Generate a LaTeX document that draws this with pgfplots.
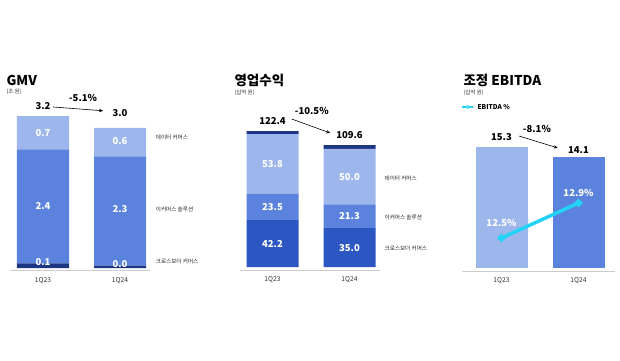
\documentclass[border=0pt]{standalone}
\usepackage{fontspec}
\setmainfont{Noto Sans CJK KR}
\usepackage{pgfplots}
\pgfplotsset{compat=1.18}
\usetikzlibrary{arrows.meta}
\definecolor{cLight}{HTML}{9DB6EB}
\definecolor{cMid}{HTML}{5B83DD}
\definecolor{cDark}{HTML}{2C57C2}
\definecolor{cNavy}{HTML}{1C3682}
\definecolor{cCyan}{HTML}{22D3F6}
\definecolor{cGrid}{HTML}{CCCCCC}
\newcommand{\fs}[1]{\fontsize{#1}{#1}\selectfont}
\pgfplotsset{
  panel/.style={
    ybar stacked, bar width=52pt, x=77pt,
    axis x line=bottom, hide y axis,
    axis line style={cGrid, line width=0.8pt, -},
    xtick={0,1}, xticklabels={1Q23,1Q24},
    tick style={draw=none},
    xticklabel style={font=\fs{6.7}, text=black!80, yshift=-1pt},
    clip=false, anchor=origin,
  },
}
\tikzset{
  seg/.style={font=\bfseries\fs{9.5}, text=white},
  tot/.style={font=\bfseries\fs{9.5}, text=black},
  side/.style={font=\fs{5.6}, text=black!85, anchor=west},
}
\begin{document}
\begin{tikzpicture}
\useasboundingbox[fill=white] (0pt,0pt) rectangle (620pt,360pt);

% ---------- GMV ----------
\begin{axis}[panel, at={(43pt,92pt)}, y=47.5pt, xmin=-0.43, xmax=1.39, ymin=-0.06, ymax=3.6]
\addplot[fill=cNavy, draw=none] coordinates {(0,0.1) (1,0.05)};
\addplot[fill=cMid, draw=none] coordinates {(0,2.4) (1,2.3)};
\addplot[fill=cLight, draw=none] coordinates {(0,0.7) (1,0.6)};
\coordinate (a1) at (axis cs:0,2.85);
\coordinate (a2) at (axis cs:0,1.30);
\coordinate (a3) at (axis cs:0,0.13);
\coordinate (a4) at (axis cs:1,2.68);
\coordinate (a5) at (axis cs:1,1.24);
\coordinate (a6) at (axis cs:1,0.09);
\node[tot] at (axis cs:0,3.41) {3.2};
\node[tot] at (axis cs:1,3.26) {3.0};
\node[tot] at (axis cs:0.52,3.58) {-5.1\%};
\draw[-{Stealth[length=4pt,width=3.5pt]}, line width=0.6pt] (axis cs:0.13,3.39) -- (axis cs:0.78,3.31);
\node[side] at (axis cs:1.42,2.74) {데이터 커머스};
\node[side] at (axis cs:1.42,1.24) {이커머스 솔루션};
\node[side] at (axis cs:1.42,0.13) {크로스보더 커머스};
\end{axis}
\node[seg] at (a1) {0.7};
\node[seg] at (a2) {2.4};
\node[seg] at (a3) {0.1};
\node[seg] at (a4) {0.6};
\node[seg] at (a5) {2.3};
\node[seg] at (a6) {0.0};

% ---------- 영업수익 ----------
\begin{axis}[panel, at={(272.5pt,93pt)}, y=1.111pt, xmin=-0.42, xmax=1.40, ymin=-2.7, ymax=150]
\addplot[fill=cDark, draw=none] coordinates {(0,42.2) (1,35.0)};
\addplot[fill=cMid, draw=none] coordinates {(0,23.5) (1,21.3)};
\addplot[fill=cLight, draw=none] coordinates {(0,53.8) (1,50.0)};
\addplot[fill=cNavy, draw=none] coordinates {(0,2.9) (1,3.3)};
\coordinate (b1) at (axis cs:0,92.6);
\coordinate (b2) at (axis cs:0,53.95);
\coordinate (b3) at (axis cs:0,21.1);
\coordinate (b4) at (axis cs:1,81.3);
\coordinate (b5) at (axis cs:1,45.65);
\coordinate (b6) at (axis cs:1,17.5);
\node[tot] at (axis cs:0,131.4) {122.4};
\node[tot] at (axis cs:1,118.8) {109.6};
\node[tot] at (axis cs:0.51,140.4) {-10.5\%};
\draw[-{Stealth[length=4pt,width=3.5pt]}, line width=0.6pt] (axis cs:0.25,133.2) -- (axis cs:0.75,120.6);
\node[side] at (axis cs:1.41,80.1) {데이터 커머스};
\node[side] at (axis cs:1.41,45) {이커머스 솔루션};
\node[side] at (axis cs:1.41,17.1) {크로스보더 커머스};
\end{axis}
\node[seg] at (b1) {53.8};
\node[seg] at (b2) {23.5};
\node[seg] at (b3) {42.2};
\node[seg] at (b4) {50.0};
\node[seg] at (b5) {21.3};
\node[seg] at (b6) {35.0};

% ---------- 조정 EBITDA ----------
\begin{axis}[panel, at={(501.5pt,92pt)}, y=7.9pt, xmin=-0.51, xmax=1.47, ymin=-0.38, ymax=20]
\addplot[fill=cLight, draw=none] coordinates {(0,15.3) (1,0)};
\addplot[fill=cMid, draw=none] coordinates {(0,0) (1,14.1)};
\node[tot] at (axis cs:0,16.58) {15.3};
\node[tot] at (axis cs:1,14.94) {14.1};
\node[tot] at (axis cs:0.46,17.6) {-8.1\%};
\draw[-{Stealth[length=4pt,width=3.5pt]}, line width=0.6pt] (axis cs:0.23,16.7) -- (axis cs:0.73,15.2);
\end{axis}
\begin{axis}[at={(462.23pt,92pt)}, anchor=south west, x=77pt, y=87.5pt,
  xmin=-0.51, xmax=1.47, ymin=12.157, ymax=13.5, axis lines=none, clip=false]
\addplot[cCyan, line width=3.5pt, mark=*, mark size=1.8pt, mark options={fill=white, draw=none}] coordinates {(0,12.5) (1,12.9)};
\node[seg] at (axis cs:0,12.67) {12.5\%};
\node[seg] at (axis cs:1,13.01) {12.9\%};
\end{axis}

% ---------- titles ----------
\node[anchor=west, font=\bfseries\fs{13.5}] at (3pt,280pt) {GMV};
\node[anchor=west, font=\fs{5.5}, text=black!80] at (3pt,268pt) {(조 원)};
\node[anchor=west, font=\bfseries\fs{13.5}] at (231pt,280pt) {영업수익};
\node[anchor=west, font=\fs{5.5}, text=black!80] at (231pt,267pt) {(십억 원)};
\node[anchor=west, font=\bfseries\fs{13.5}] at (460pt,280pt) {조정 EBITDA};
\node[anchor=west, font=\fs{5.5}, text=black!80] at (460pt,267pt) {(십억 원)};
\draw[cCyan, line width=1.5pt] (462pt,253pt) -- (473pt,253pt);
\filldraw[fill=white, draw=cCyan, line width=0.9pt] (467.5pt,253pt) circle (1.6pt);
\node[anchor=west, font=\bfseries\fs{6.6}] at (474pt,253pt) {EBITDA \%};
\end{tikzpicture}
\end{document}
